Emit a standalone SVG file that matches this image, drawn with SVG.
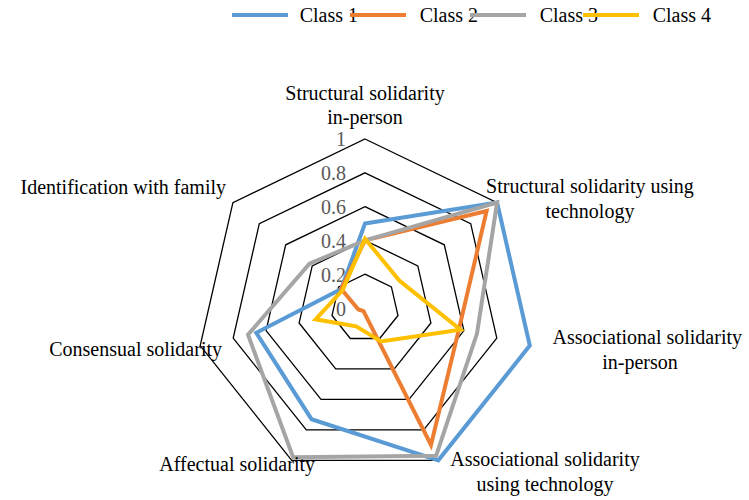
<svg xmlns="http://www.w3.org/2000/svg" width="749" height="500" viewBox="0 0 749 500">
<style>
text{font-family:"Liberation Serif","Times New Roman",serif;font-size:20px;fill:#000}
.tick{fill:#595959;text-anchor:end;font-size:20px}
.lg{text-anchor:end}
.grid{fill:none;stroke:#000;stroke-width:1.3}
.s{fill:none;stroke-width:4;stroke-linejoin:miter}
.c1{stroke:#5B9BD5}.c2{stroke:#ED7D31}.c3{stroke:#A5A5A5}.c4{stroke:#FFC000}
</style>
<rect width="749" height="500" fill="#fff"/>
<g id="legend">
<line class="s c1" x1="232" y1="15" x2="288" y2="15"/><text class="lg" x="358" y="22">Class 1</text>
<line class="s c2" x1="350" y1="15" x2="406" y2="15"/><text class="lg" x="478" y="22">Class 2</text>
<line class="s c3" x1="470" y1="15" x2="526" y2="15"/><text class="lg" x="598" y="22">Class 3</text>
<line class="s c4" x1="583" y1="15" x2="639" y2="15"/><text class="lg" x="711" y="22">Class 4</text>
</g>
<g id="grid">
<polygon class="grid" points="365,139 497.1,202.6 529.8,345.6 438.3,460.3 291.7,460.3 200.2,345.6 232.9,202.6"/>
<polygon class="grid" points="365,172.8 470.7,223.7 496.8,338.1 423.7,429.8 306.3,429.8 233.2,338.1 259.3,223.7"/>
<polygon class="grid" points="365,206.6 444.3,244.8 463.9,330.6 409,399.4 321,399.4 266.1,330.6 285.7,244.8"/>
<polygon class="grid" points="365,240.4 417.8,265.9 430.9,323 394.3,368.9 335.7,368.9 299.1,323 312.2,265.9"/>
<polygon class="grid" points="365,274.2 391.4,286.9 398,315.5 379.7,338.5 350.3,338.5 332,315.5 338.6,286.9"/>
</g>
<g id="ticks">
<text class="tick" x="346" y="146">1</text>
<text class="tick" x="346" y="180">0.8</text>
<text class="tick" x="346" y="214">0.6</text>
<text class="tick" x="346" y="248">0.4</text>
<text class="tick" x="346" y="282">0.2</text>
<text class="tick" x="346" y="316">0</text>
</g>
<g id="series">
<polygon id="class1" class="s c1" points="365,223.5 497.1,202.6 529.8,345.6 438.3,460.3 311.5,419.2 256.3,332.8 341.2,289"/>
<polygon id="class2" class="s c2" points="365,240.4 486.6,211 458.9,329.4 431,445 363.5,311.1 358.4,309.5 341.2,289"/>
<polygon id="class3" class="s c3" points="365,240.4 497.1,202.6 477,333.6 436.1,455.7 293.1,457.2 248,334.7 309.5,263.7"/>
<polygon id="class4" class="s c4" points="365,238.7 399.3,280.6 460.5,329.8 381.1,341.5 356.2,326.3 315.6,319.3 342.6,290.1"/>
</g>
<g id="labels">
<text x="365" y="100" text-anchor="middle">Structural solidarity</text>
<text x="365" y="124" text-anchor="middle">in-person</text>
<text x="590" y="193" text-anchor="middle">Structural solidarity using</text>
<text x="590" y="218" text-anchor="middle">technology</text>
<text x="742" y="344" text-anchor="end">Associational solidarity</text>
<text x="640" y="369" text-anchor="middle">in-person</text>
<text x="545" y="466" text-anchor="middle">Associational solidarity</text>
<text x="545" y="491" text-anchor="middle">using technology</text>
<text x="315" y="471" text-anchor="end">Affectual solidarity</text>
<text x="222" y="356" text-anchor="end">Consensual solidarity</text>
<text x="226" y="194" text-anchor="end">Identification with family</text>
</g>
</svg>
